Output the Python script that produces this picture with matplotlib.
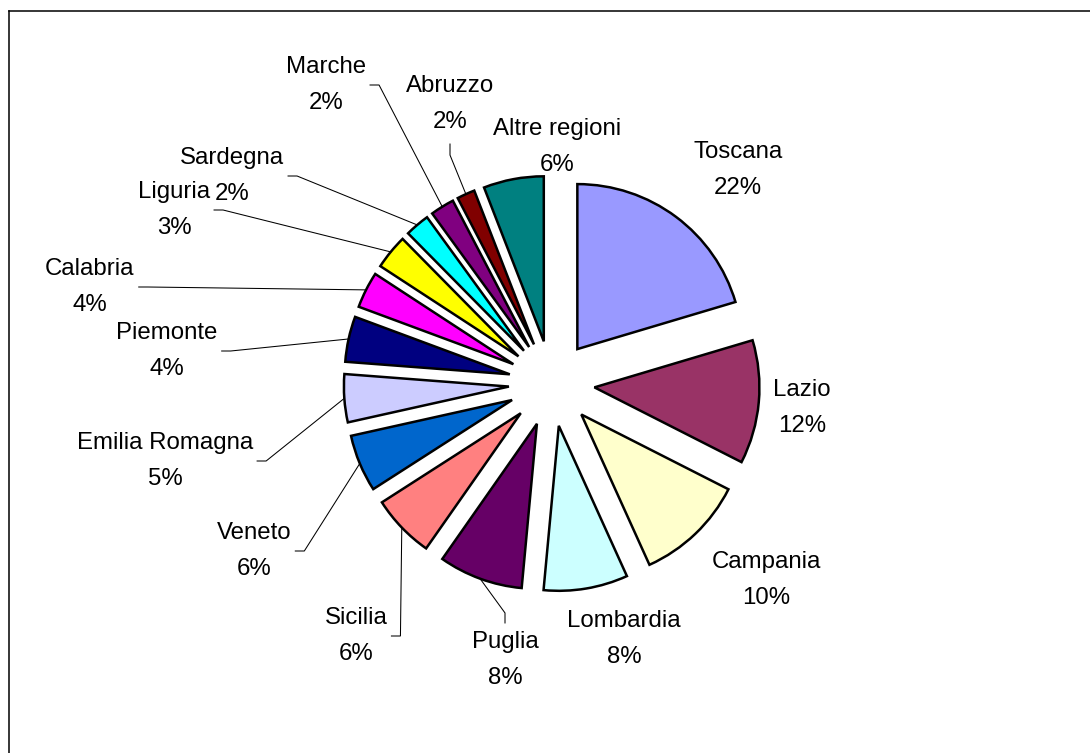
import numpy as np
import matplotlib
matplotlib.use('Agg')
import matplotlib.pyplot as plt
from matplotlib.lines import Line2D

regions = ['Toscana', 'Lazio', 'Campania', 'Lombardia', 'Puglia', 'Sicilia',
           'Veneto', 'Emilia Romagna', 'Piemonte', 'Calabria', 'Liguria',
           'Sardegna', 'Marche', 'Abruzzo', 'Altre regioni']
# wedge sizes as they are drawn (share of the pie, %)
shares = [20.4, 12.1, 10.75, 8.25, 8.25, 6.2, 5.6, 4.7, 4.45, 3.55, 3.4,
          2.4, 2.35, 1.75, 5.9]
# percentages written on the labels
pct_labels = [22, 12, 10, 8, 8, 6, 6, 5, 4, 4, 3, 2, 2, 2, 6]

colors = ['#9999FF', '#993366', '#FFFFCC', '#CCFFFF', '#660066', '#FF8080',
          '#0066CC', '#CCCCFF', '#000080', '#FF00FF', '#FFFF00', '#00FFFF',
          '#800080', '#800000', '#008080']

# label centres in image pixels (x right, y down) and leader line style
label_xy = [(738, 170), (802, 408), (766, 580), (624, 639), (505, 660),
            (356, 636), (254, 551), (165, 461), (167, 351), (90, 287),
            (174, 210), (232, 176), (326, 85), (450, 104), (557, 147)]
leader = [None, None, None, None, 'up', 'side', 'side', 'side', 'side',
          'side', 'side', 'side', 'side', 'down', None]

W, H = 1090, 753
cx, cy, R = 551.7, 383.5, 165.0   # pie centre / radius in pixels
FONT = ['Liberation Sans', 'DejaVu Sans']

fig = plt.figure(figsize=(W / 100, H / 100), dpi=100)
ax = fig.add_axes([0, 0, 1, 1])

wedges, _ = ax.pie(shares, explode=[0.26] * len(shares), colors=colors,
                   startangle=90, counterclock=False, radius=1, frame=True,
                   wedgeprops=dict(edgecolor='black', linewidth=1.8,
                                   joinstyle='miter'))
ax.set_xlim(-cx / R, (W - cx) / R)
ax.set_ylim(-(H - cy) / R, cy / R)
ax.set_aspect('equal')
ax.axis('off')


def to_data(px, py):
    return (px - cx) / R, (cy - py) / R


texts = []
for name, pct, (px, py) in zip(regions, pct_labels, label_xy):
    x, y = to_data(px, py)
    t = ax.text(x, y, '{}\n{}%'.format(name, pct), ha='center', va='center',
                multialignment='center', fontsize=17.3, family=FONT,
                linespacing=1.83, color='black')
    texts.append(t)

fig.canvas.draw()
renderer = fig.canvas.get_renderer()
inv = ax.transData.inverted()

for w, t, kind in zip(wedges, texts, leader):
    if kind is None:
        continue
    bb = t.get_window_extent(renderer)
    mx = (bb.x0 + bb.x1) / 2
    if kind == 'side':
        y0 = (bb.y0 + bb.y1) / 2
        p0, p1 = (bb.x1 + 4, y0), (bb.x1 + 13, y0)
    elif kind == 'down':
        p0, p1 = (mx, bb.y0 - 11), (mx, bb.y0 - 22)
    else:
        p0, p1 = (mx, bb.y1 + 8), (mx, bb.y1 + 18)
    p0, p1 = inv.transform(p0), inv.transform(p1)
    th = np.deg2rad((w.theta1 + w.theta2) / 2)
    ex = w.center[0] + w.r * np.cos(th)
    ey = w.center[1] + w.r * np.sin(th)
    ax.plot([p0[0], p1[0], ex], [p0[1], p1[1], ey], color='black',
            linewidth=0.75, solid_joinstyle='miter')

# chart area border (only top and left edges are visible)
fig.add_artist(Line2D([8.5 / W, 1], [1 - 10.5 / H, 1 - 10.5 / H],
                      transform=fig.transFigure, color='black', linewidth=1.1))
fig.add_artist(Line2D([8.5 / W, 8.5 / W], [0, 1 - 10.5 / H],
                      transform=fig.transFigure, color='black', linewidth=1.1))

fig.savefig('out.png', dpi=100, facecolor='white')
